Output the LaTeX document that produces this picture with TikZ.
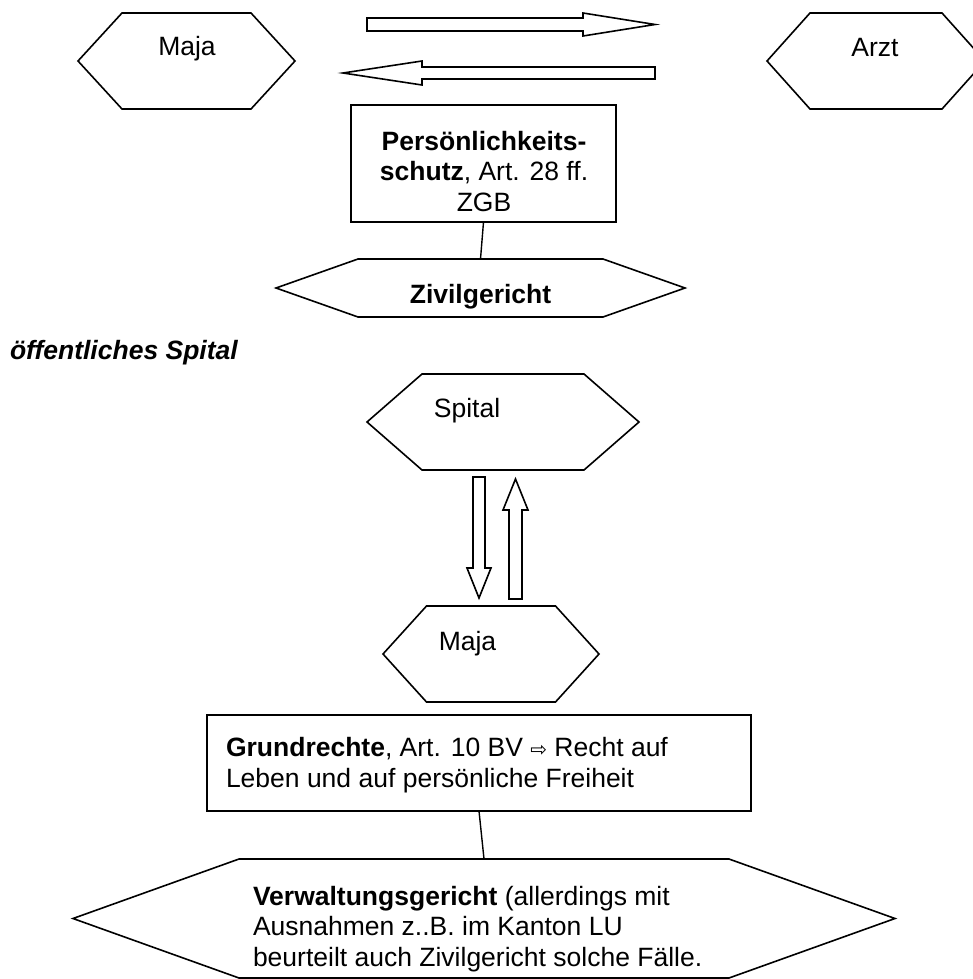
\documentclass[tikz,border=0pt]{standalone}
\usepackage{fontspec}
\setmainfont{Liberation Sans}
\newfontfamily\arrowfont{DejaVu Sans}

% hexagon outline drawn around a named (invisible) region node;
% #1 = node name, #2 = horizontal run of the slanted sides
\newcommand\hexoutline[2]{%
  \draw[outline] ([xshift=#2]#1.north west) -- ([xshift=-#2]#1.north east)
    -- (#1.east) -- ([xshift=-#2]#1.south east) -- ([xshift=#2]#1.south west)
    -- (#1.west) -- cycle;}

\begin{document}
\begin{tikzpicture}[x=1pt,y=-1pt,
  outline/.style={draw=black,line width=1.6pt,line join=miter},
  region/.style={inner sep=0pt,outer sep=0pt},
  frame/.style={region,draw=black,line width=1.6pt},
  label/.style={inner sep=0pt,outer sep=0pt,font=\fontsize{26.5}{30.5}\selectfont},
  link/.style={draw=black,line width=1.4pt},
  blockarrow/.style={outline,fill=white}]
\useasboundingbox (0,0) rectangle (973,979);

% ---------- private doctor ----------
\node[region,minimum width=217,minimum height=96] (majaA) at (186.5,61) {};
\hexoutline{majaA}{44}
\node[region,minimum width=218,minimum height=96] (arzt) at (876,61) {};
\hexoutline{arzt}{43}

\node[label,anchor=base] (tmajaA) at (187,56) {Maja};
\node[label,anchor=base] (tarzt) at (875,57) {Arzt};

% two hollow block arrows between the parties
\draw[blockarrow] (367,18) -- (583,18) -- (583,13) -- (655,24.5) -- (583,36)
  -- (583,31) -- (367,31) -- cycle;
\draw[blockarrow] (655,67) -- (422,67) -- (422,61) -- (343,73) -- (422,85)
  -- (422,79) -- (655,79) -- cycle;

% multi-line labels are anchored at the baseline of their last line
\node[frame,minimum width=265,minimum height=117] (pbox) at (483.5,163.5) {};
\node[label,anchor=base,align=center] (tpbox) at (484,211)
  {\textbf{Persönlichkeits-}\\\textbf{schutz}, Art. 28 ff.\\ZGB};

\node[region,minimum width=409,minimum height=58] (zivil) at (480.5,288) {};
\hexoutline{zivil}{82}
\node[label,anchor=base] (tzivil) at (480.5,303) {\textbf{Zivilgericht}};

\draw[link] (pbox.south) -- (zivil.north);

% ---------- public hospital ----------
\node[label,anchor=base west,font=\fontsize{26.5}{30.5}\selectfont\bfseries\itshape]
  (heading) at (10,359) {öffentliches Spital};

\node[region,minimum width=272,minimum height=96] (spital) at (503,422) {};
\hexoutline{spital}{55}
\node[label,anchor=base] (tspital) at (467,417) {Spital};

\node[region,minimum width=216,minimum height=96] (majaB) at (491,654) {};
\hexoutline{majaB}{43.5}
\node[label,anchor=base] (tmajaB) at (467.5,650) {Maja};

% hollow arrows: down to Maja, up to the hospital
\draw[blockarrow] (473,477) -- (485,477) -- (485,568) -- (491,568) -- (479,598)
  -- (467,568) -- (473,568) -- cycle;
\draw[blockarrow] (509,599) -- (522,599) -- (522,510) -- (528,510) -- (515.5,479)
  -- (503,510) -- (509,510) -- cycle;

\node[frame,minimum width=544,minimum height=96] (gbox) at (479,763) {};
\node[label,anchor=base west,align=left] (tgbox) at (226,787)
  {\textbf{Grundrechte}, Art. 10 BV {\arrowfont\fontsize{20}{20}\selectfont ⇨} Recht auf\\
   Leben und auf persönliche Freiheit};

\node[region,minimum width=822,minimum height=119] (verw) at (484,918.5) {};
\hexoutline{verw}{166}
\node[label,anchor=base west,align=left] (tverw) at (253,966)
  {\textbf{Verwaltungsgericht} (allerdings mit\\
   Ausnahmen z..B. im Kanton LU\\
   beurteilt auch Zivilgericht solche Fälle.};

\draw[link] (gbox.south) -- (verw.north);
\end{tikzpicture}
\end{document}
